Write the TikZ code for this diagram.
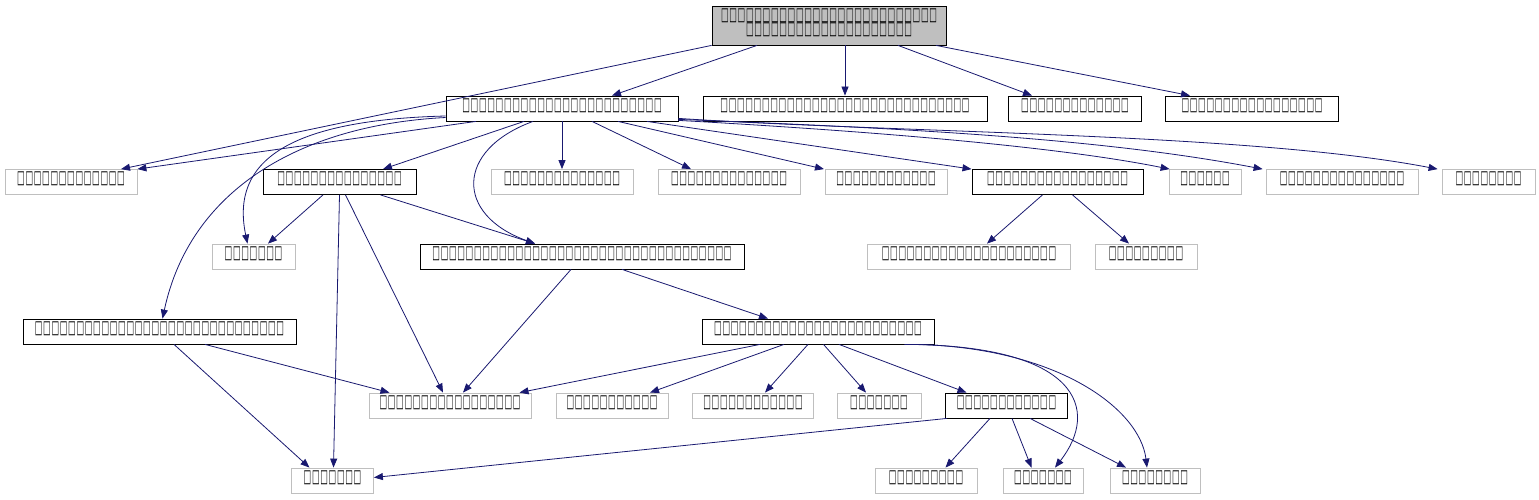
\documentclass[tikz,border=0pt]{standalone}
\usepackage{fontspec}
\usetikzlibrary{arrows.meta}
\newfontfamily\dejavu{DejaVu Sans}
\definecolor{edgeblue}{HTML}{191970}
\definecolor{boxgray}{HTML}{BFBFBF}
\definecolor{rootgray}{HTML}{BFBFBF}
\newcommand\tofuglyph{\makebox[8.33pt]{\raisebox{4pt}[11.7pt][0pt]{\resizebox{7.6pt}{11.7pt}{□}}}}
\newcommand\tofus[1]{\foreach \k in {1,...,#1}{\tofuglyph}}
\tikzset{
  base/.style={rectangle, inner sep=0pt, minimum height=25pt, font=\dejavu\fontsize{10}{12}\selectfont},
  gn/.style={base, draw=boxgray, line width=0.8pt},
  bn/.style={base, draw=black, line width=0.8pt},
  rn/.style={base, draw=black, fill=rootgray, line width=0.8pt, minimum height=39pt, align=center},
  lnk/.style={draw=edgeblue, line width=0.8pt, -{Triangle[length=9pt,width=7pt]}},
}
\begin{document}
\begin{tikzpicture}[x=1pt,y=-1pt]
\fill[white] (0,0) rectangle (1539,500);
\useasboundingbox (0,0) rectangle (1539,500);
% nodes
\node[rn, minimum width=234pt] (root) at (829,25.5) {\tofus{26}\\[1.6pt]\tofus{20}};
\node[bn, minimum width=232pt] (A) at (562,108.5) {\tofus{24}};
\node[bn, minimum width=284pt] (B) at (845,108.5) {\tofus{30}};
\node[bn, minimum width=133pt] (C) at (1075,108.5) {\tofus{13}};
\node[bn, minimum width=173pt] (D) at (1252,108.5) {\tofus{17}};
\node[gn, minimum width=132pt] (E) at (71,182) {\tofus{13}};
\node[bn, minimum width=153pt] (F) at (339.5,182) {\tofus{15}};
\node[gn, minimum width=142pt] (G) at (562,182) {\tofus{14}};
\node[gn, minimum width=142pt] (H) at (729,182) {\tofus{14}};
\node[gn, minimum width=122pt] (I) at (886,182) {\tofus{12}};
\node[bn, minimum width=171pt] (J) at (1057.5,182) {\tofus{17}};
\node[gn, minimum width=72pt] (K) at (1205,182) {\tofus{6}};
\node[gn, minimum width=152pt] (L) at (1342,182) {\tofus{15}};
\node[gn, minimum width=93pt] (M) at (1488.5,182) {\tofus{8}};
\node[gn, minimum width=83pt] (N) at (253.5,256.5) {\tofus{7}};
\node[bn, minimum width=324pt] (O) at (582,256.5) {\tofus{36}};
\node[gn, minimum width=203pt] (P) at (969,256.5) {\tofus{21}};
\node[gn, minimum width=102pt] (Q) at (1146,256.5) {\tofus{9}};
\node[bn, minimum width=273pt] (R) at (159.5,331.5) {\tofus{30}};
\node[bn, minimum width=232pt] (S) at (818,331.5) {\tofus{25}};
\node[gn, minimum width=162pt] (T) at (450,405.5) {\tofus{17}};
\node[gn, minimum width=112pt] (U) at (612,405.5) {\tofus{11}};
\node[gn, minimum width=121pt] (V) at (753,405.5) {\tofus{12}};
\node[gn, minimum width=84pt] (W) at (879,405.5) {\tofus{7}};
\node[bn, minimum width=122pt] (X) at (1006.5,405.5) {\tofus{12}};
\node[gn, minimum width=82pt] (Y) at (332.5,480.5) {\tofus{7}};
\node[gn, minimum width=102pt] (Z) at (926,480.5) {\tofus{9}};
\node[gn, minimum width=80pt] (AA) at (1043,480.5) {\tofus{7}};
\node[gn, minimum width=90pt] (AB) at (1155,480.5) {\tofus{8}};
% edges from root
\draw[lnk] ([xshift=-72pt]root.south) -- ([xshift=50pt]A.north);
\draw[lnk] ([xshift=16pt]root.south) -- (B.north);
\draw[lnk] ([xshift=69pt]root.south) -- ([xshift=-43pt]C.north);
\draw[lnk] ([xshift=107pt]root.south) -- ([xshift=-62pt]D.north);
\draw[lnk] (root.south west) -- ([xshift=50pt]E.north);
% edges from A
\draw[lnk] ([xshift=-86pt]A.south) -- (E.north east);
\draw[lnk] ([xshift=-38pt]A.south) -- ([xshift=43.5pt]F.north);
\draw[lnk] ([xshift=-29pt]A.south) .. controls (455,150) and (455,215) .. ([xshift=-47pt]O.north);
\draw[lnk] ([yshift=-7.5pt]A.west) .. controls (290,120) and (230,160) .. ([xshift=-6pt]N.north);
\draw[lnk] ([yshift=-9pt]A.west) .. controls (300,125) and (190,190) .. ([xshift=3pt]R.north);
\draw[lnk] (A.south) -- (G.north);
\draw[lnk] ([xshift=30pt]A.south) -- ([xshift=-38pt]H.north);
\draw[lnk] ([xshift=56pt]A.south) -- ([xshift=-62pt]I.north);
\draw[lnk] ([xshift=85pt]A.south) -- ([xshift=-86pt]J.north);
\draw[lnk] ([yshift=1pt]A.south east) .. controls (850,130) and (1050,145) .. ([xshift=1pt]K.north west);
\draw[lnk] ([yshift=2pt]A.south east) .. controls (900,128) and (1100,138) .. ([xshift=-3pt]L.north west);
\draw[lnk] ([yshift=3pt]A.south east) .. controls (900,133) and (1250,133) .. ([xshift=-4pt]M.north west);
% edges from F
\draw[lnk] ([xshift=-16.5pt]F.south) -- ([xshift=14.5pt]N.north);
\draw[lnk] (F.south) -- ([xshift=1pt]Y.north);
\draw[lnk] ([xshift=6pt]F.south) -- ([xshift=-7pt]T.north);
\draw[lnk] ([xshift=41pt]F.south) -- ([xshift=-47pt]O.north);
% edges from J
\draw[lnk] ([xshift=-15pt]J.south) -- ([xshift=18pt]P.north);
\draw[lnk] ([xshift=15pt]J.south) -- ([xshift=-17pt]Q.north);
% edges from O
\draw[lnk] ([xshift=-11pt]O.south) -- ([xshift=13pt]T.north);
\draw[lnk] ([xshift=40pt]O.south) -- ([xshift=-50pt]S.north);
% edges from R
\draw[lnk] ([xshift=45.5pt]R.south) -- ([xshift=-60.5pt]T.north);
\draw[lnk] ([xshift=14.5pt]R.south) -- ([xshift=-23pt]Y.north);
% edges from S
\draw[lnk] ([xshift=-58pt]S.south) -- ([xshift=69.5pt]T.north);
\draw[lnk] ([xshift=-34pt]S.south) -- ([xshift=38pt]U.north);
\draw[lnk] ([xshift=-10pt]S.south) -- ([xshift=12pt]V.north);
\draw[lnk] ([xshift=5.5pt]S.south) -- ([xshift=-13pt]W.north);
\draw[lnk] ([xshift=21pt]S.south) -- ([xshift=-40pt]X.north);
\draw[lnk] ([xshift=-30pt]S.south east) .. controls (1080,345) and (1100,410) .. ([xshift=12pt]AA.north);
\draw[lnk] ([xshift=-18pt]S.south east) .. controls (1060,348) and (1140,410) .. ([xshift=-8pt]AB.north);
% edges from X
\draw[lnk] ([xshift=2pt]X.south west) -- ([yshift=3pt]Y.east);
\draw[lnk] ([xshift=-16.5pt]X.south) -- ([xshift=19.5pt]Z.north);
\draw[lnk] ([xshift=5.5pt]X.south) -- ([xshift=-11.5pt]AA.north);
\draw[lnk] ([xshift=23.5pt]X.south) -- ([xshift=-29pt]AB.north);
\end{tikzpicture}
\end{document}
